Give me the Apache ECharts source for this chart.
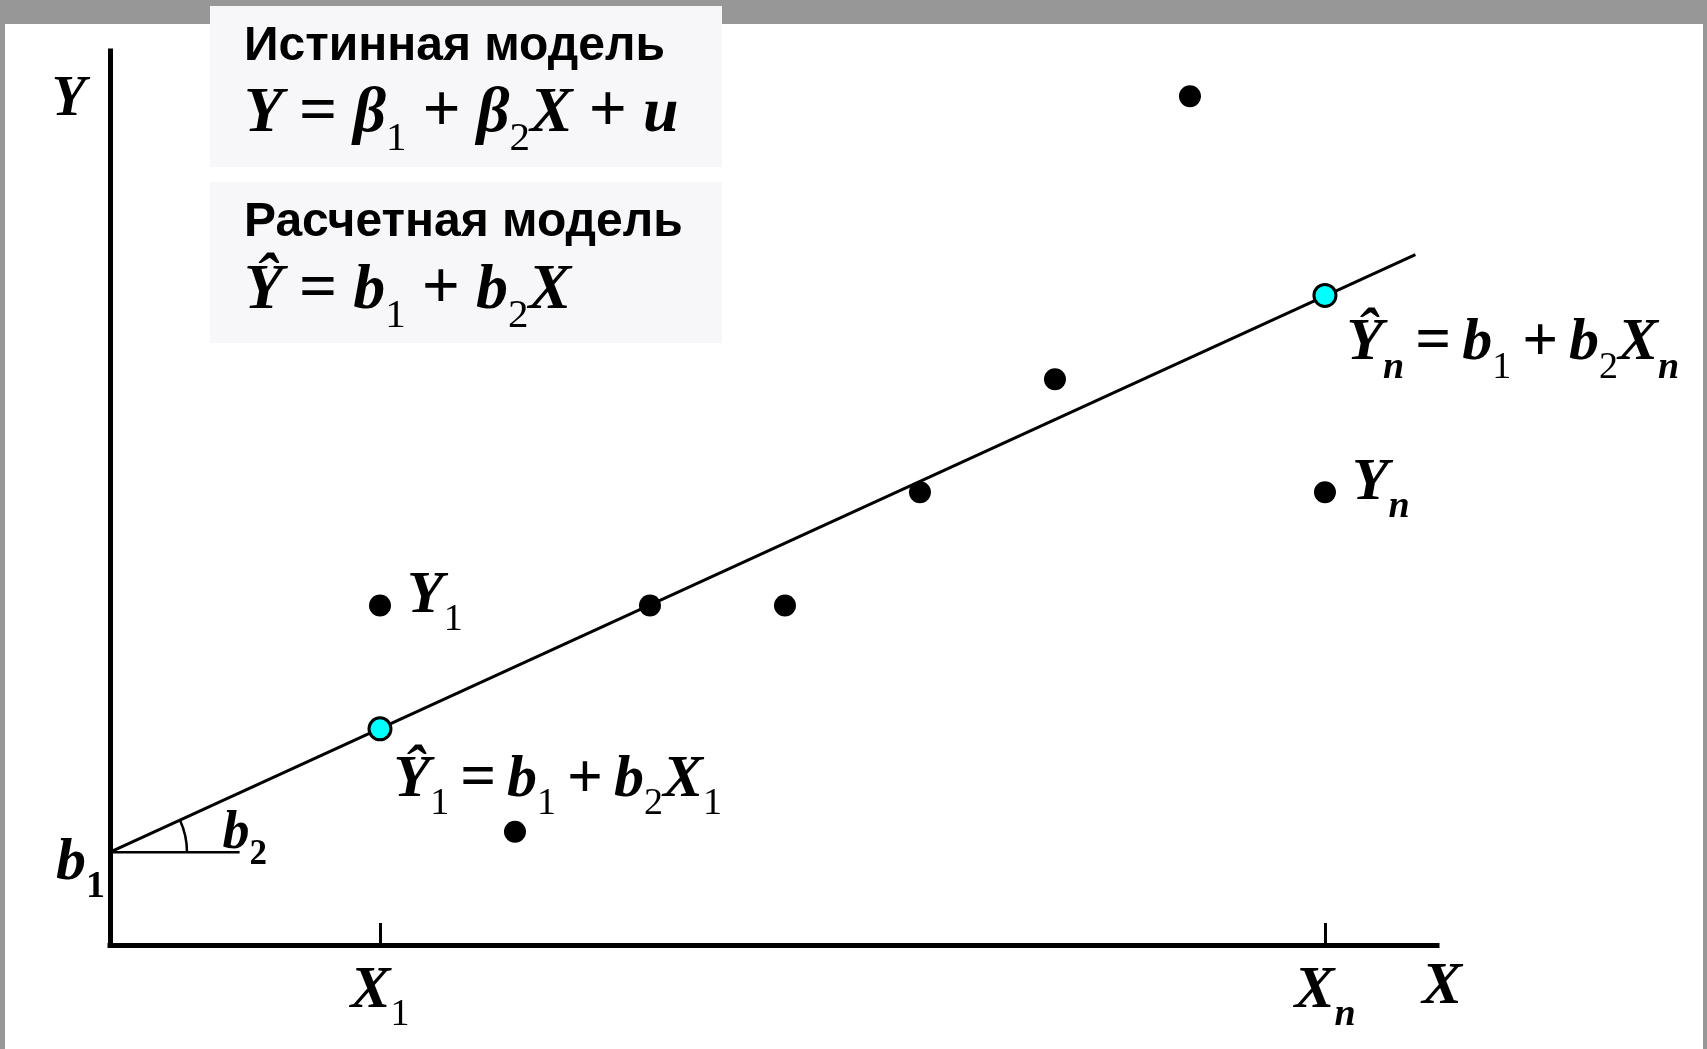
<!DOCTYPE html>
<html><head><meta charset="utf-8">
<script src="https://cdn.jsdelivr.net/npm/echarts@6/dist/echarts.min.js"></script>
<style>html,body{margin:0;padding:0;background:#fff;}#c{width:1707px;height:1049px;}</style>
</head><body><div id="c"></div>
<script>
// ---- data ----
const obsX = [2, 3, 4, 5, 6, 7, 8, 9];
const obsY = [3, 1, 3, 3, 4, 5, 7.5, 4];
const fitLineX = [0, 9.67];
const fitLineY = [0.82, 6.10];
const fittedX = [2, 9];
const fittedY = [1.91, 5.74];
const xTickValues = [2, 9];
const xTickLabels = ['{v|X}{d|1}', '{v|X}{n|n}'];
const yTickValues = [0.82];
const yTickLabels = ['{v|b}{db|1}'];
const angleLegEndX = [0.96];
const titleTrue = 'Истинная модель';
const titleEst = 'Расчетная модель';
const EQ = '{g| }{o|=}{g| }';
const PL = '{g| }{o|+}{g| }';
const eqTrue = '{v|Y}' + EQ + '{v|β}{d|1}' + PL + '{v|β}{d|2}{v|X}' + PL + '{v|u}';
const eqEst = '{v|Ŷ}' + EQ + '{v|b}{d|1}' + PL + '{v|b}{d|2}{v|X}';
const labelY1 = '{v|Y}{d|1}';
const labelYn = '{v|Y}{n|n}';
const labelYhat1 = '{v|Ŷ}{d|1}' + EQ + '{v|b}{d|1}' + PL + '{v|b}{d|2}{v|X}{d|1}';
const labelYhatn = '{v|Ŷ}{n|n}' + EQ + '{v|b}{d|1}' + PL + '{v|b}{d|2}{v|X}{n|n}';

const SERIF = '"Liberation Serif","Times New Roman",serif';
const SANS = '"Liberation Sans",Arial,sans-serif';
function rich(size, gapSize) {
  const lh = Math.round(size * 1.2);
  const sub = Math.round(size * 0.64);
  const pad = Math.round(size * 0.8);
  return {
    v: {fontFamily: SERIF, fontStyle: 'italic', fontWeight: 'bold', fontSize: size, color: '#000', lineHeight: lh},
    o: {fontFamily: SERIF, fontWeight: 'bold', fontSize: Math.round(size * 1.05), color: '#000', lineHeight: lh},
    g: {fontFamily: SERIF, fontSize: gapSize, color: '#000', lineHeight: lh},
    d: {fontFamily: SERIF, fontWeight: 'normal', fontSize: sub, color: '#000', lineHeight: lh, padding: [pad, 0, 0, 0]},
    db: {fontFamily: SERIF, fontWeight: 'bold', fontSize: sub, color: '#000', lineHeight: lh, padding: [pad, 0, 0, 0]},
    n: {fontFamily: SERIF, fontStyle: 'italic', fontWeight: 'bold', fontSize: sub, color: '#000', lineHeight: lh,
      padding: [pad, 0, 0, 0]}
  };
}
const R64 = rich(64, 64);
const R60 = rich(60, 44);
const R54 = rich(54, 28);
const GRAY = '#979797';
const BOX = '#f7f7f9';

const chart = echarts.init(document.getElementById('c'));
chart.setOption({
  animation: false,
  backgroundColor: '#fff',
  grid: {left: 110, top: 51, width: 1327, height: 894, containLabel: false},
  xAxis: {
    type: 'value', min: 0, max: 9.83,
    splitLine: {show: false},
    axisLine: {onZero: false, lineStyle: {color: '#000', width: 5, cap: 'square'}},
    axisTick: {show: true, inside: true, length: 22, customValues: xTickValues, lineStyle: {color: '#000', width: 3}},
    axisLabel: {customValues: xTickValues, margin: 10,
      formatter: (v) => xTickLabels[xTickValues.indexOf(v)] || '', rich: R60},
    name: 'X', nameLocation: 'end', nameGap: 5,
    nameTextStyle: {fontFamily: SERIF, fontStyle: 'italic', fontWeight: 'bold', fontSize: 60, color: '#000',
      align: 'center', verticalAlign: 'top', padding: [12, 0, 0, 0]}
  },
  yAxis: {
    type: 'value', min: 0, max: 7.9,
    splitLine: {show: false},
    axisLine: {onZero: false, lineStyle: {color: '#000', width: 5, cap: 'square'}},
    axisTick: {show: false},
    axisLabel: {customValues: yTickValues, margin: 5, padding: [22, 0, 0, 0],
      formatter: (v) => yTickLabels[yTickValues.indexOf(v)] || '', rich: R60},
    name: 'Y', nameLocation: 'end', nameGap: -22,
    nameTextStyle: {fontFamily: SERIF, fontStyle: 'italic', fontWeight: 'bold', fontSize: 56, color: '#000',
      align: 'right', verticalAlign: 'top', padding: [0, 24, 0, 0]}
  },
  graphic: [
    {type: 'rect', shape: {x: 0, y: 0, width: 1707, height: 24}, style: {fill: GRAY}, z: -10, silent: true},
    {type: 'rect', shape: {x: 0, y: 0, width: 5, height: 1049}, style: {fill: GRAY}, z: -10, silent: true},
    {type: 'rect', shape: {x: 1703, y: 0, width: 4, height: 1049}, style: {fill: GRAY}, z: -10, silent: true},
    {type: 'rect', shape: {x: 210, y: 6, width: 512, height: 161}, style: {fill: BOX}, z: -5, silent: true},
    {type: 'rect', shape: {x: 210, y: 182, width: 512, height: 161}, style: {fill: BOX}, z: -5, silent: true},
    {type: 'text', x: 244, y: 47, z: 5, silent: true,
      style: {text: titleTrue, fontFamily: SANS, fontWeight: 'bold', fontSize: 48, fill: '#000', verticalAlign: 'middle'}},
    {type: 'text', x: 244, y: 114, z: 5, silent: true,
      style: {text: eqTrue, rich: R64, verticalAlign: 'middle'}},
    {type: 'text', x: 244, y: 223, z: 5, silent: true,
      style: {text: titleEst, fontFamily: SANS, fontWeight: 'bold', fontSize: 48, fill: '#000', verticalAlign: 'middle'}},
    {type: 'text', x: 244, y: 291, z: 5, silent: true,
      style: {text: eqEst, rich: R64, verticalAlign: 'middle'}}
  ],
  series: [
    {
      type: 'line', silent: true, symbol: 'none', z: 2,
      data: fitLineX.map((x, i) => [x, fitLineY[i]]),
      lineStyle: {color: '#000', width: 3}
    },
    {
      type: 'custom', silent: true, z: 2,
      data: angleLegEndX.map((x) => [fitLineX[0], fitLineY[0], x]),
      renderItem: (params, api) => {
        const o = api.coord([api.value(0), api.value(1)]);
        const e = api.coord([api.value(2), api.value(1)]);
        const p = api.coord([fitLineX[1], fitLineY[1]]);
        const ang = Math.atan2(p[1] - o[1], p[0] - o[0]);
        return {type: 'group', children: [
          {type: 'line', shape: {x1: o[0], y1: o[1], x2: e[0], y2: e[1]}, style: {stroke: '#000', lineWidth: 2.5}},
          {type: 'arc', shape: {cx: o[0], cy: o[1], r: 77, startAngle: ang, endAngle: 0, clockwise: true},
            style: {stroke: '#000', lineWidth: 2.5, fill: null}},
          {type: 'text', x: e[0] - 17, y: e[1] + 14,
            style: {text: '{v|b}{db|2}', rich: R54, verticalAlign: 'bottom', align: 'left'}}
        ]};
      }
    },
    {
      type: 'scatter', silent: true, z: 3, symbolSize: 22,
      itemStyle: {color: '#000', opacity: 1},
      data: obsX.map((x, i) => {
        const item = {value: [x, obsY[i]]};
        if (i === 0) item.label = {show: true, position: 'right', distance: 16, formatter: labelY1, rich: R60, offset: [0, -9]};
        if (i === obsX.length - 1) item.label = {show: true, position: 'right', distance: 16, formatter: labelYn, rich: R60, offset: [0, -9]};
        return item;
      })
    },
    {
      type: 'scatter', silent: true, z: 4, symbolSize: 22,
      itemStyle: {color: '#00ffff', borderColor: '#000', borderWidth: 3, opacity: 1},
      data: fittedX.map((x, i) => ({
        value: [x, fittedY[i]],
        label: {show: true, position: i === 0 ? [26, 28] : [34, 25], align: 'left', verticalAlign: 'top',
          formatter: i === 0 ? labelYhat1 : labelYhatn, rich: R60}
      }))
    }
  ]
});
</script></body></html>
